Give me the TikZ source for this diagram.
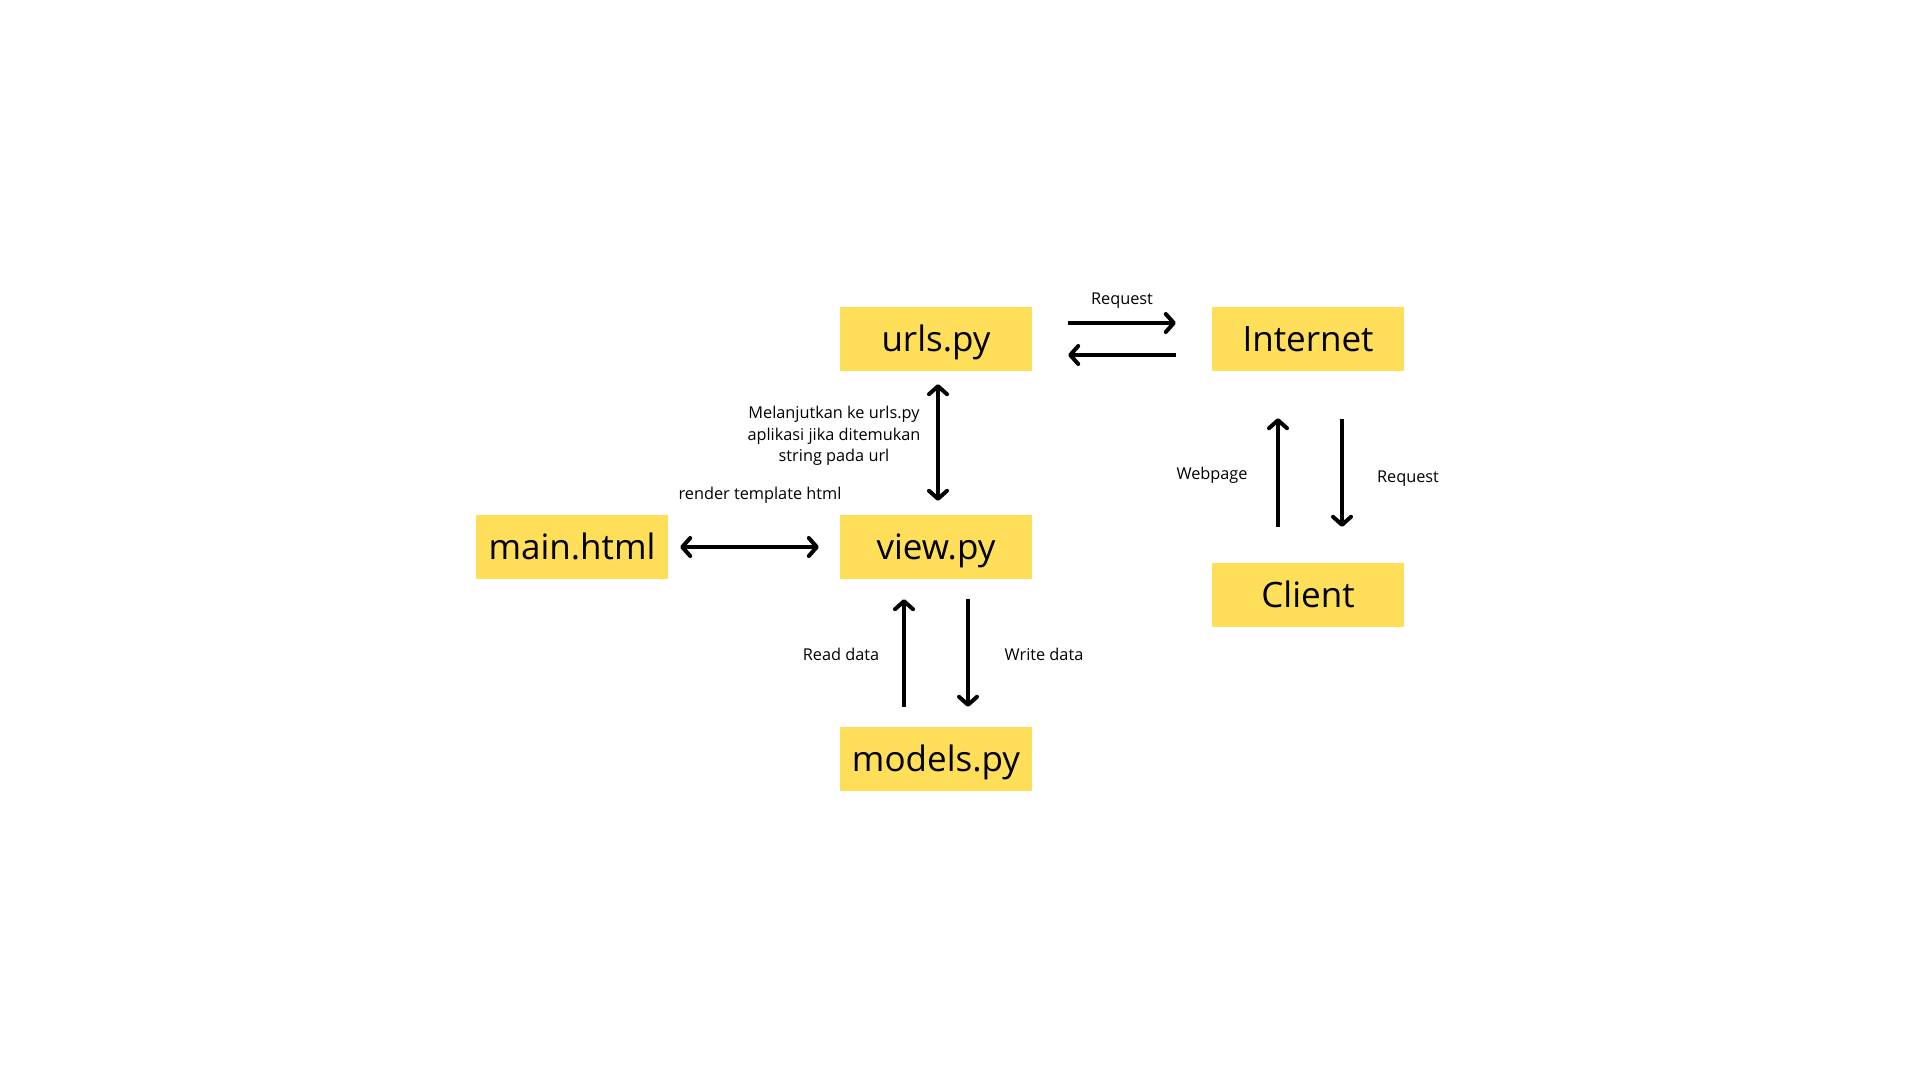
\documentclass[tikz,border=0pt]{standalone}
\usepackage{fontspec}
\setmainfont{Open Sans}
\usetikzlibrary{arrows.meta}
\definecolor{boxyellow}{HTML}{FFDE59}
\tikzset{
  box/.style={fill=boxyellow, minimum width=192pt, minimum height=64pt, inner sep=0pt,
    text height=30pt, text depth=6pt, font=\fontsize{35}{42}\selectfont},
  lbl/.style={inner sep=0pt, align=center, font=\fontsize{16.3}{21.7}\selectfont},
  tipb/.style={},
  arr/.style={line width=4pt, -{Straight Barb[length=8pt,width=18pt,line join=round,line cap=round]}},
  darr/.style={line width=4pt, {Straight Barb[length=8pt,width=18pt,line join=round,line cap=round]}-{Straight Barb[length=8pt,width=18pt,line join=round,line cap=round]}}
}
\begin{document}
\begin{tikzpicture}[x=1pt,y=-1pt]
\useasboundingbox[fill=white] (0,0) rectangle (1920,1080);
% boxes
\node[box] (urls) at (936,339) {urls.py};
\node[box] (internet) at (1308,339) {Internet};
\node[box] (main) at (572,547) {main.html};
\node[box] (view) at (936,547) {view.py};
\node[box] (client) at (1308,595) {Client};
\node[box] (models) at (936,759) {models.py};
% labels
\node[lbl] (lreq1) at (1122,301) {Request};
\node[lbl] (lmel) at (834,436) {Melanjutkan ke urls.py\\aplikasi jika ditemukan\\string pada url};
\node[lbl] (lrender) at (760,495) {render template html};
\node[lbl] (lread) at (841,654) {Read data};
\node[lbl] (lwrite) at (1044,654) {Write data};
\node[lbl] (lweb) at (1212,475) {Webpage};
\node[lbl] (lreq2) at (1408,479) {Request};
% connectors
\draw[arr] ([xshift=36pt,yshift=16pt]urls.east) -- ([xshift=-36pt,yshift=16pt]internet.west);
\draw[arr] ([xshift=-36pt,yshift=-16pt]internet.west) -- ([xshift=36pt,yshift=-16pt]urls.east);
\draw[darr] ([xshift=2pt,yshift=-13pt]urls.south) -- ([xshift=2pt,yshift=14pt]view.north);
\draw[darr] ([xshift=12pt]main.east) -- ([xshift=-21pt]view.west);
\draw[arr] ([xshift=-32pt,yshift=20pt]models.north) -- ([xshift=-32pt,yshift=-20pt]view.south);
\draw[arr] ([xshift=32pt,yshift=-20pt]view.south) -- ([xshift=32pt,yshift=20pt]models.north);
\draw[arr] ([xshift=-30pt,yshift=36pt]client.north) -- ([xshift=-30pt,yshift=-47pt]internet.south);
\draw[arr] ([xshift=34pt,yshift=-48pt]internet.south) -- ([xshift=34pt,yshift=36pt]client.north);
\end{tikzpicture}
\end{document}
